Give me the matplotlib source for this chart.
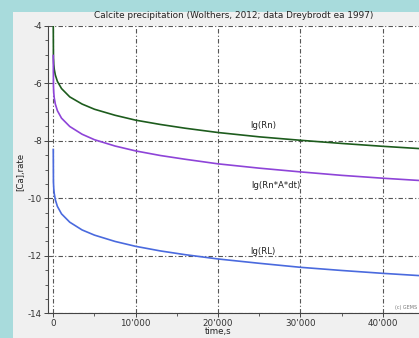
import matplotlib
matplotlib.use("Agg")
import matplotlib.pyplot as plt
from matplotlib.patches import Rectangle
from matplotlib.ticker import MultipleLocator

# ---- data ----
time_s = [0, 20, 60, 120, 250, 500, 1000, 2000, 3500, 5000, 7500, 10000,
          13000, 16000, 20000, 25000, 30000, 35000, 40000, 44500]
lg_rn = [-4.0, -5.10, -5.34, -5.51, -5.71, -5.93, -6.18, -6.47, -6.72, -6.90, -7.11, -7.28,
         -7.43, -7.56, -7.71, -7.86, -7.98, -8.09, -8.19, -8.27]
lg_rnadt = [-5.03, -6.09, -6.33, -6.51, -6.72, -6.95, -7.21, -7.50, -7.77, -7.96, -8.18, -8.35,
            -8.51, -8.64, -8.80, -8.95, -9.08, -9.20, -9.30, -9.38]
lg_rl = [-8.30, -9.43, -9.67, -9.84, -10.05, -10.28, -10.54, -10.83, -11.10, -11.28, -11.50, -11.67,
         -11.83, -11.96, -12.11, -12.26, -12.40, -12.51, -12.61, -12.69]

series_labels = ["lg(Rn)", "lg(Rn*A*dt)", "lg(RL)"]
series_colors = ["#1d5c1d", "#8e44d8", "#4a6ade"]

xticks = [0, 10000, 20000, 30000, 40000]
xtick_labels = ["0", "10'000", "20'000", "30'000", "40'000"]
yticks = [-14, -12, -10, -8, -6, -4]
ytick_labels = ["-14", "-12", "-10", "-8", "-6", "-4"]

title = "Calcite precipitation (Wolthers, 2012; data Dreybrodt ea 1997)"
xlabel = "time,s"
ylabel = "[Ca],rate"

# ---- figure ----
W, H = 419, 338
fig = plt.figure(figsize=(W / 100, H / 100), dpi=100)
fig.patch.set_facecolor("#a8dbdc")
panel = Rectangle((13 / W, 0), 1 - 13 / W, 1 - 12 / H,
                  transform=fig.transFigure, facecolor="#f0f0f0",
                  edgecolor="none", zorder=-10)
fig.patches.append(panel)

ax = fig.add_axes([48 / W, 1 - 313.3 / H, 1 - 48 / W, (313.3 - 25.9) / H])
ax.set_zorder(1)
ax.set_facecolor("white")
ax.set_xlim(-640, 44380)
ax.set_ylim(-14, -4)

grid_style = dict(color="#555555", linewidth=0.8, linestyle=(0, (4, 2, 1, 2)))
ax.set_xticks(xticks)
ax.set_xticklabels(xtick_labels)
ax.set_yticks(yticks)
ax.set_yticklabels(ytick_labels)
ax.xaxis.set_minor_locator(MultipleLocator(5000))
ax.yaxis.set_minor_locator(MultipleLocator(0.5))
ax.grid(True, which="major", **grid_style)
ax.set_axisbelow(True)

for s in ["top", "right"]:
    ax.spines[s].set_visible(False)
for s in ["left", "bottom"]:
    ax.spines[s].set_color("#444444")
    ax.spines[s].set_linewidth(0.8)

ax.tick_params(which="major", direction="out", length=3, width=0.7,
               colors="#444444", labelsize=6.3, labelcolor="#333333", pad=1.2)
ax.tick_params(which="minor", direction="out", length=2, width=0.6, colors="#444444")
ax.tick_params(axis="x", which="major", pad=0.8)

ax.plot(time_s, lg_rn, color=series_colors[0], lw=1.2, zorder=3)
ax.plot(time_s, lg_rnadt, color=series_colors[1], lw=1.2, zorder=3)
ax.plot(time_s, lg_rl, color=series_colors[2], lw=1.2, zorder=3)

ax.text(23900, -7.45, series_labels[0], fontsize=6.2, color="#222222", va="center", ha="left")
ax.text(24080, -9.54, series_labels[1], fontsize=6.2, color="#222222", va="center", ha="left")
ax.text(23870, -11.84, series_labels[2], fontsize=6.2, color="#222222", va="center", ha="left")
ax.text(0.995, 0.012, "(c) GEMS", transform=ax.transAxes, fontsize=3.5,
        color="#777777", ha="right", va="bottom")

fig.text(234 / W, 1 - 16 / H, title, fontsize=6.4, color="#222222", ha="center", va="center")
fig.text(218 / W, 1 - 331.5 / H, xlabel, fontsize=6.2, color="#222222", ha="center", va="center")
fig.text(21 / W, 1 - 172 / H, ylabel, fontsize=6.2, color="#222222", ha="center", va="center",
         rotation=90)

fig.savefig("out.png", dpi=100, facecolor=fig.get_facecolor())
